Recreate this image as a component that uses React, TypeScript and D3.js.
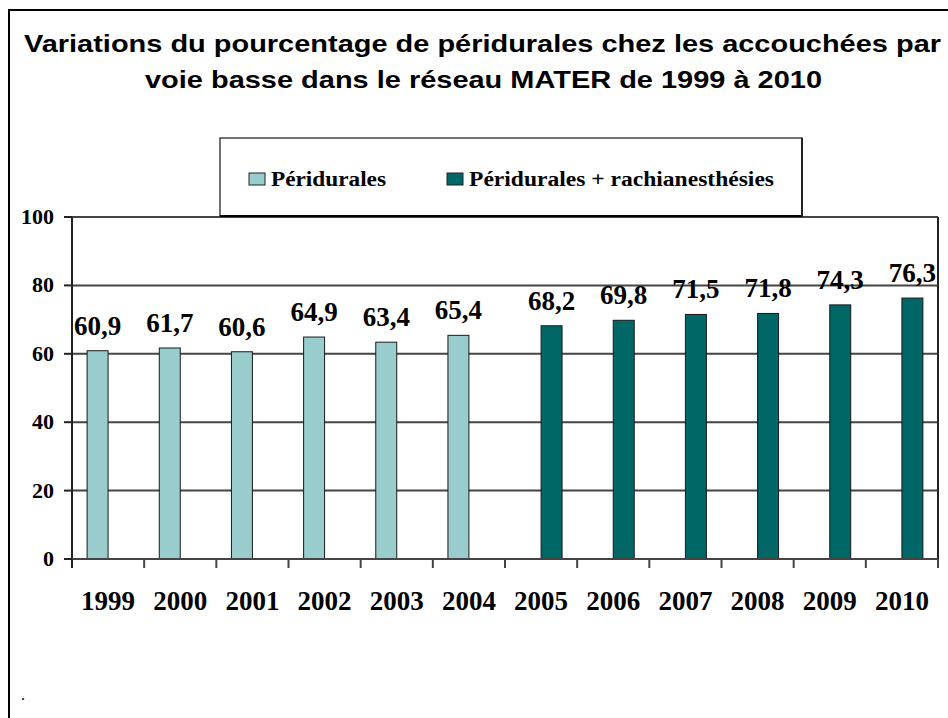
import React from "react";
import * as d3 from "d3";

const years = ["1999","2000","2001","2002","2003","2004","2005","2006","2007","2008","2009","2010"];
const peridurales: (number | null)[] = [60.9, 61.7, 60.6, 64.9, 63.4, 65.4, null, null, null, null, null, null];
const periRachi: (number | null)[] = [null, null, null, null, null, null, 68.2, 69.8, 71.5, 71.8, 74.3, 76.3];
const seriesNames = ["Péridurales", "Péridurales + rachianesthésies"];
const seriesColors = ["#99CCCC", "#006666"];
const yTicks = [0, 20, 40, 60, 80, 100];
const titleLines = [
  "Variations du pourcentage de péridurales chez les accouchées par",
  "voie basse dans le réseau MATER de 1999 à 2010",
];

const W = 948, H = 718;
const plot = { left: 72, right: 938, top: 217, bottom: 559 };
const titleLayout = [
  { x: 24, y: 52, len: 917 },
  { x: 145, y: 88, len: 677 },
];
const legendLayout = [
  { x: 249, len: 115 },
  { x: 447, len: 305 },
];

export default function App() {
  const x = d3.scaleBand<string>().domain(years).range([plot.left, plot.right]).paddingInner(0).paddingOuter(0);
  const x1 = d3.scaleBand<string>().domain(["0", "1"]).range([0, x.bandwidth()]).paddingInner(0).paddingOuter(0.72);
  const y = d3.scaleLinear().domain([0, 100]).range([plot.bottom, plot.top]);
  const fmt = (v: number) => v.toFixed(1).replace(".", ",");
  const serif = "'Liberation Serif', 'Times New Roman', serif";
  const series = [peridurales, periRachi];

  return (
    <svg width={W} height={H} style={{ position: "absolute", left: 0, top: 0, background: "#fff" }}>
      <rect x={0} y={0} width={W} height={H} fill="#fff" />
      {/* outer frame */}
      <rect x={9} y={10} width={W} height={H} fill="none" stroke="#000" strokeWidth={2} />
      {/* title */}
      {titleLines.map((t, i) => (
        <text key={i} x={titleLayout[i].x} y={titleLayout[i].y} textLength={titleLayout[i].len} lengthAdjust="spacingAndGlyphs"
          fontFamily="'Liberation Sans', Arial, sans-serif" fontWeight="bold" fontSize={24} fill="#000">{t}</text>
      ))}
      {/* gridlines */}
      {yTicks.filter(t => t > 0).map(t => (
        <line key={t} x1={plot.left} x2={plot.right} y1={y(t)} y2={y(t)} stroke="#444" strokeWidth={2} />
      ))}
      {/* right border */}
      <line x1={plot.right} x2={plot.right} y1={plot.top} y2={plot.bottom} stroke="#222" strokeWidth={2} />
      {/* bars */}
      {series.map((s, si) =>
        years.map((yr, i) => {
          const v = s[i];
          if (v == null) return null;
          const bx = (x(yr) as number) + (x1(String(si)) as number);
          const bw = x1.bandwidth();
          return (
            <g key={si + "-" + yr}>
              <rect x={bx} y={y(v)} width={bw} height={y(0) - y(v)} fill={seriesColors[si]} stroke="#1a1a1a" strokeWidth={1} />
              <text x={bx + bw / 2} y={y(v) - 16} textAnchor="middle" fontFamily={serif} fontWeight="bold" fontSize={27} fill="#000">{fmt(v)}</text>
            </g>
          );
        })
      )}
      {/* y axis */}
      <line x1={plot.left} x2={plot.left} y1={plot.top} y2={plot.bottom} stroke="#222" strokeWidth={2} />
      {yTicks.map(t => (
        <g key={t}>
          <line x1={plot.left - 8} x2={plot.left} y1={y(t)} y2={y(t)} stroke="#222" strokeWidth={2} />
          <text x={54} y={y(t) + 7} textAnchor="end" fontFamily={serif} fontWeight="bold" fontSize={22} fill="#000">{t}</text>
        </g>
      ))}
      {/* x axis */}
      <line x1={plot.left} x2={plot.right} y1={plot.bottom} y2={plot.bottom} stroke="#444" strokeWidth={2} />
      {years.map(yr => (
        <line key={"t" + yr} x1={(x(yr) as number) + x.bandwidth()} x2={(x(yr) as number) + x.bandwidth()} y1={plot.bottom} y2={plot.bottom + 9} stroke="#444" strokeWidth={2} />
      ))}
      <line x1={plot.left} x2={plot.left} y1={plot.bottom} y2={plot.bottom + 9} stroke="#222" strokeWidth={2} />
      {years.map(yr => (
        <text key={"l" + yr} x={(x(yr) as number) + x.bandwidth() / 2} y={610} textAnchor="middle"
          fontFamily={serif} fontWeight="bold" fontSize={27} fill="#000">{yr}</text>
      ))}
      {/* legend */}
      <rect x={220} y={138} width={582} height={78} fill="#fff" stroke="#444" strokeWidth={1.5} />
      <line x1={220} x2={803} y1={216} y2={216} stroke="#000" strokeWidth={2} />
      <line x1={802} x2={802} y1={138} y2={217} stroke="#222" strokeWidth={2} />
      {seriesNames.map((n, i) => {
        const lx = legendLayout[i].x;
        return (
          <g key={n}>
            <rect x={lx} y={173} width={16} height={12} fill={seriesColors[i]} stroke="#222" strokeWidth={1} />
            <text x={lx + 22} y={186} textLength={legendLayout[i].len} lengthAdjust="spacingAndGlyphs"
              fontFamily={serif} fontWeight="bold" fontSize={20} fill="#000">{n}</text>
          </g>
        );
      })}
      <text x={21} y={700} fontFamily={serif} fontSize={16} fill="#000">.</text>
    </svg>
  );
}
